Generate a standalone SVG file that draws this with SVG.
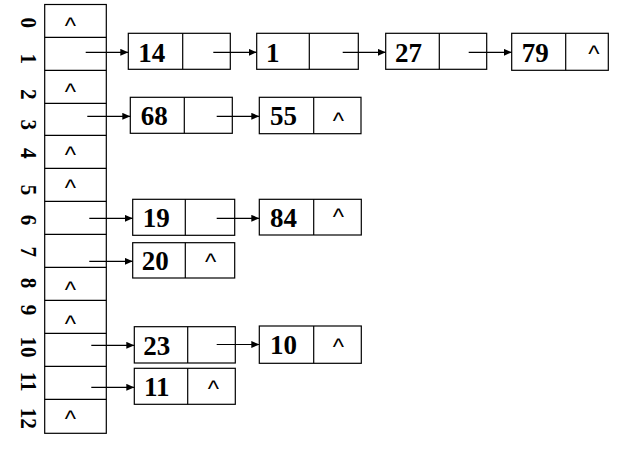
<svg xmlns="http://www.w3.org/2000/svg" width="618" height="451" viewBox="0 0 618 451">
<style>
.b{fill:#fff;stroke:#000;stroke-width:1.2}
.l{stroke:#000;stroke-width:1.2;fill:none}
.n{font-family:"Liberation Serif",serif;font-weight:bold;font-size:27px;fill:#000}
.c{font-family:"Liberation Sans",sans-serif;font-size:24px;fill:#000;text-anchor:middle}
.i{font-family:"Liberation Serif",serif;font-weight:bold;font-size:24px;fill:#000;text-anchor:middle}
.a{stroke:#000;stroke-width:1.2;fill:none;marker-end:url(#ah)}
</style>
<defs>
<marker id="ah" viewBox="0 0 8 7" refX="8" refY="3.5" markerWidth="8" markerHeight="7" markerUnits="userSpaceOnUse" orient="auto">
<path d="M0,0 L8,3.5 L0,7 z" fill="#000"/>
</marker>
</defs>
<rect width="618" height="451" fill="#fff"/>
<g id="indices">
<text class="i" transform="translate(20.5,22.8) rotate(90) scale(0.88,1)">0</text>
<text class="i" transform="translate(20.5,58.8) rotate(90) scale(0.88,1)">1</text>
<text class="i" transform="translate(20.5,94.3) rotate(90) scale(0.88,1)">2</text>
<text class="i" transform="translate(20.5,124.7) rotate(90) scale(0.88,1)">3</text>
<text class="i" transform="translate(20.5,153.3) rotate(90) scale(0.88,1)">4</text>
<text class="i" transform="translate(20.5,190) rotate(90) scale(0.88,1)">5</text>
<text class="i" transform="translate(20.5,220) rotate(90) scale(0.88,1)">6</text>
<text class="i" transform="translate(20.5,251.7) rotate(90) scale(0.88,1)">7</text>
<text class="i" transform="translate(20.5,283) rotate(90) scale(0.88,1)">8</text>
<text class="i" transform="translate(20.5,310) rotate(90) scale(0.88,1)">9</text>
<text class="i" transform="translate(20.5,347) rotate(90) scale(0.88,1)">10</text>
<text class="i" transform="translate(20.5,381.7) rotate(90) scale(0.88,1)">11</text>
<text class="i" transform="translate(20.5,418.3) rotate(90) scale(0.88,1)">12</text>
</g>
<g id="table">
<rect class="b" x="44.7" y="4.5" width="61.6" height="428.8"/>
<path class="l" d="M44.7,37.3H106.3M44.7,70.3H106.3M44.7,103.3H106.3M44.7,135.3H106.3M44.7,168.3H106.3M44.7,201.3H106.3M44.7,234.3H106.3M44.7,267.3H106.3M44.7,300.3H106.3M44.7,333.3H106.3M44.7,366.3H106.3M44.7,399.3H106.3"/>
<text class="c" x="70.5" y="33.7">^</text>
<text class="c" x="70.5" y="100">^</text>
<text class="c" x="70.5" y="162.8">^</text>
<text class="c" x="70.5" y="196.2">^</text>
<text class="c" x="70.5" y="298.3">^</text>
<text class="c" x="70.5" y="331.5">^</text>
<text class="c" x="70.5" y="426.5">^</text>
</g>
<g id="n14"><rect class="b" x="128.3" y="33.3" width="102" height="36"/><path class="l" d="M182.7,33.3V69.3"/><text class="n" x="138.3" y="61.5">14</text></g>
<g id="n1"><rect class="b" x="256.7" y="33.3" width="101.6" height="36"/><path class="l" d="M309.3,33.3V69.3"/><text class="n" x="266" y="61.5">1</text></g>
<g id="n27"><rect class="b" x="385.7" y="33.3" width="101" height="36"/><path class="l" d="M439.3,33.3V69.3"/><text class="n" x="395" y="61.5">27</text></g>
<g id="n79"><rect class="b" x="511.7" y="33.3" width="96.6" height="37"/><path class="l" d="M565.7,33.3V70.3"/><text class="n" x="521.7" y="61.5">79</text><text class="c" x="594" y="62">^</text></g>
<g id="n68"><rect class="b" x="130.3" y="97.3" width="102" height="36"/><path class="l" d="M184.3,97.3V133.3"/><text class="n" x="140.7" y="125">68</text></g>
<g id="n55"><rect class="b" x="259.3" y="97.3" width="101.7" height="36.4"/><path class="l" d="M313.7,97.3V133.7"/><text class="n" x="270" y="125">55</text><text class="c" x="338.3" y="128.5">^</text></g>
<g id="n19"><rect class="b" x="132.7" y="199.3" width="102" height="36"/><path class="l" d="M185.3,199.3V235.3"/><text class="n" x="142.7" y="227">19</text></g>
<g id="n84"><rect class="b" x="259.3" y="199.3" width="102" height="35.7"/><path class="l" d="M313.7,199.3V235"/><text class="n" x="270" y="227">84</text><text class="c" x="338.3" y="224.8">^</text></g>
<g id="n20"><rect class="b" x="132.7" y="242.7" width="102" height="35.3"/><path class="l" d="M185.3,242.7V278"/><text class="n" x="141.7" y="270">20</text><text class="c" x="210.7" y="270">^</text></g>
<g id="n23"><rect class="b" x="134.3" y="326.7" width="101" height="36.3"/><path class="l" d="M187.7,326.7V363"/><text class="n" x="143.3" y="354.5">23</text></g>
<g id="n10"><rect class="b" x="259.3" y="326" width="102" height="37.3"/><path class="l" d="M313.7,326V363.3"/><text class="n" x="270" y="354">10</text><text class="c" x="338.3" y="354.8">^</text></g>
<g id="n11"><rect class="b" x="134.3" y="368.3" width="101" height="36"/><path class="l" d="M187.7,368.3V404.3"/><text class="n" x="144" y="396">11</text><text class="c" x="213.3" y="396.7">^</text></g>
<g id="connectors">
<path class="a" d="M85.7,52.3H128.3"/>
<path class="a" d="M213.3,52.3H256.7"/>
<path class="a" d="M342.7,52.3H385.7"/>
<path class="a" d="M468.7,52.3H511.7"/>
<path class="a" d="M87.3,116.3H130.3"/>
<path class="a" d="M216.7,116.3H259.3"/>
<path class="a" d="M89.3,218.3H132.7"/>
<path class="a" d="M216.7,218.3H259.3"/>
<path class="a" d="M89.3,261.3H132.7"/>
<path class="a" d="M91.3,345.3H134.3"/>
<path class="a" d="M216.7,344.5H259.3"/>
<path class="a" d="M91.3,387.3H134.3"/>
</g>
</svg>
